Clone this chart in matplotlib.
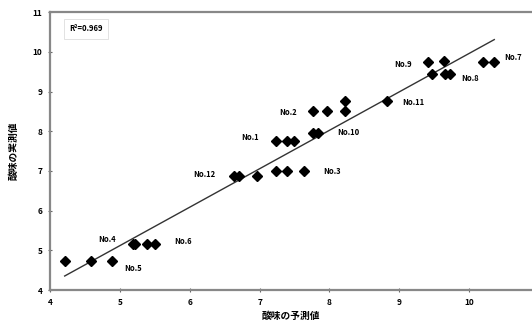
import numpy as np
import matplotlib
matplotlib.use("Agg")
import matplotlib.pyplot as plt

plt.rcParams["font.family"] = ["Noto Sans CJK JP", "DejaVu Sans"]

# 予測値 / 実測値
pred = [4.21, 4.59, 4.89, 5.19, 5.22, 5.39, 5.50,
        6.64, 6.70, 6.97, 7.23, 7.39, 7.64,
        7.23, 7.39, 7.49, 7.77, 7.83, 7.77, 7.97,
        8.23, 8.23, 8.83, 9.41, 9.64, 9.47, 9.66, 9.73,
        10.20, 10.36]
meas = [4.73, 4.73, 4.73, 5.15, 5.15, 5.15, 5.15,
        6.88, 6.88, 6.88, 7.00, 7.00, 7.00,
        7.75, 7.75, 7.75, 7.95, 7.95, 8.50, 8.50,
        8.75, 8.50, 8.75, 9.75, 9.78, 9.45, 9.45, 9.45,
        9.75, 9.75]

# サンプル名と注記の位置
names = ["No.1", "No.2", "No.3", "No.4", "No.5", "No.6",
         "No.7", "No.8", "No.9", "No.10", "No.11", "No.12"]
name_x = [6.86, 7.41, 8.04, 4.81, 5.19, 5.90, 10.63, 10.01, 9.06, 8.27, 9.20, 6.21]
name_y = [7.83, 8.48, 6.98, 5.28, 4.55, 5.23, 9.85, 9.33, 9.68, 7.98, 8.73, 6.90]

r2_text = "R²=0.969"
x_ticks = [4, 5, 6, 7, 8, 9, 10]
y_ticks = [4, 5, 6, 7, 8, 9, 10, 11]

fig = plt.figure(figsize=(5.32, 3.26), dpi=100)
ax = fig.add_axes([0.094, 0.110, 0.906, 0.853])

ax.plot(pred, meas, "D", color="black", markersize=5.5, zorder=3)

# 回帰直線
a, b = np.polyfit(pred, meas, 1)
xs = np.array([min(pred), max(pred)])
ax.plot(xs, a * xs + b, color="#333333", lw=1.0, zorder=2)

for n, tx, ty in zip(names, name_x, name_y):
    ax.text(tx, ty, n, fontsize=5.5, fontweight="bold", ha="center", va="center",
            color="black")

ax.text(0.075, 0.94, r2_text, transform=ax.transAxes, fontsize=5.5,
        fontweight="bold", ha="center", va="center",
        bbox=dict(facecolor="white", edgecolor="#dddddd", lw=0.6, pad=4))

ax.set_xlim(4, 10.9)
ax.set_ylim(4, 11)
ax.set_xticks(x_ticks)
ax.set_yticks(y_ticks)
ax.set_xticklabels([str(t) for t in x_ticks], fontsize=6, fontweight="bold")
ax.set_yticklabels([str(t) for t in y_ticks], fontsize=6, fontweight="bold")
ax.tick_params(direction="inout", length=3, width=0.8, color="#666666", pad=4)

for s in ["left", "bottom", "top"]:
    ax.spines[s].set_color("#888888")
    ax.spines[s].set_linewidth(1.6)
ax.spines["right"].set_visible(False)

ax.set_xlabel("酸味の予測値", fontsize=7, fontweight="bold", labelpad=3)
ax.set_ylabel("酸味の実測値", fontsize=7, fontweight="bold", labelpad=10)

fig.savefig("out.png", dpi=100)
